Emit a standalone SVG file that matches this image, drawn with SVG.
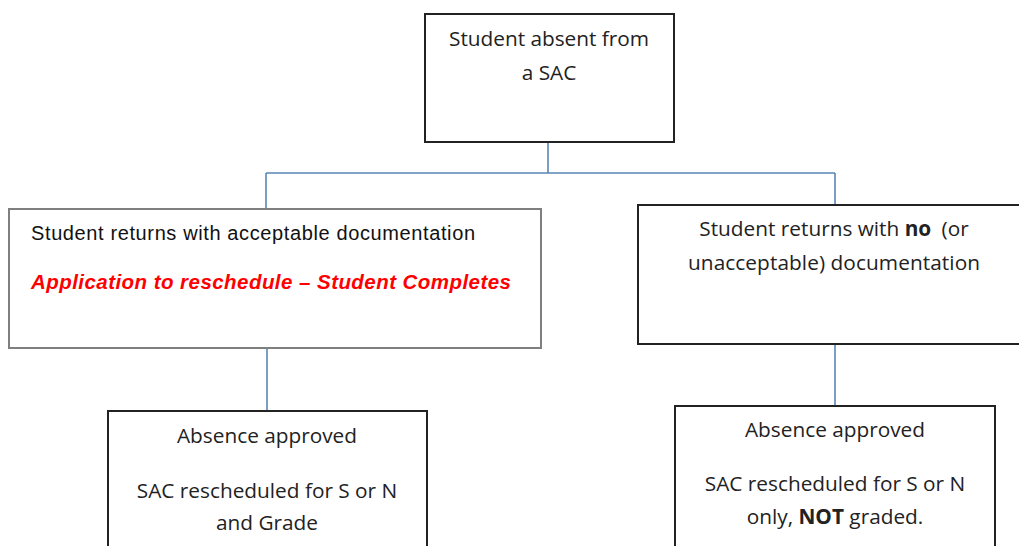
<svg xmlns="http://www.w3.org/2000/svg" width="1019" height="546" viewBox="0 0 1019 546">
<style>
.box{fill:#fff;stroke:#222;stroke-width:2}
.box2{fill:#fff;stroke:#7f7f7f;stroke-width:2}
.conn{stroke:#5b86b8;stroke-width:1.6;fill:none}
.t{font-family:"Open Sans","Liberation Sans",sans-serif;font-size:20.8px;fill:#222;text-anchor:middle}
.a{font-family:"Liberation Sans",Arial,sans-serif;font-size:20px;fill:#111}
.r{font-family:"Liberation Sans",Arial,sans-serif;font-size:20.5px;font-weight:bold;font-style:italic;fill:#ff0000}
</style>
<rect width="1019" height="546" fill="#fff"/>
<g id="connectors">
<path class="conn" d="M548 142V173M266 173H835M266 173V209M835 173V205"/>
<path class="conn" d="M267 348V411"/>
<path class="conn" d="M835 344V406"/>
</g>
<g id="n1">
<rect class="box" x="425" y="14" width="249" height="128"/>
<text class="t" x="549" y="46" textLength="200">Student absent from</text>
<text class="t" x="549" y="80">a SAC</text>
</g>
<g id="n2">
<rect class="box2" x="9" y="209" width="532" height="139"/>
<text class="a" x="31" y="240" textLength="444">Student returns with acceptable documentation</text>
<text class="r" x="31" y="289" textLength="480">Application to reschedule – Student Completes</text>
</g>
<g id="n3">
<rect class="box" x="638" y="205" width="390" height="139"/>
<text class="t" x="834" y="236">Student returns with <tspan font-weight="bold">no</tspan> <tspan dx="5">(or</tspan></text>
<text class="t" x="834" y="270" textLength="292">unacceptable) documentation</text>
</g>
<g id="n4">
<rect class="box" x="108" y="411" width="319" height="150"/>
<text class="t" x="267" y="443">Absence approved</text>
<text class="t" x="267" y="498">SAC rescheduled for S or N</text>
<text class="t" x="267" y="530">and Grade</text>
</g>
<g id="n5">
<rect class="box" x="675" y="406" width="320" height="150"/>
<text class="t" x="835" y="437">Absence approved</text>
<text class="t" x="835" y="491">SAC rescheduled for S or N</text>
<text class="t" x="835" y="524">only, <tspan font-weight="bold">NOT</tspan> graded.</text>
</g>
</svg>
